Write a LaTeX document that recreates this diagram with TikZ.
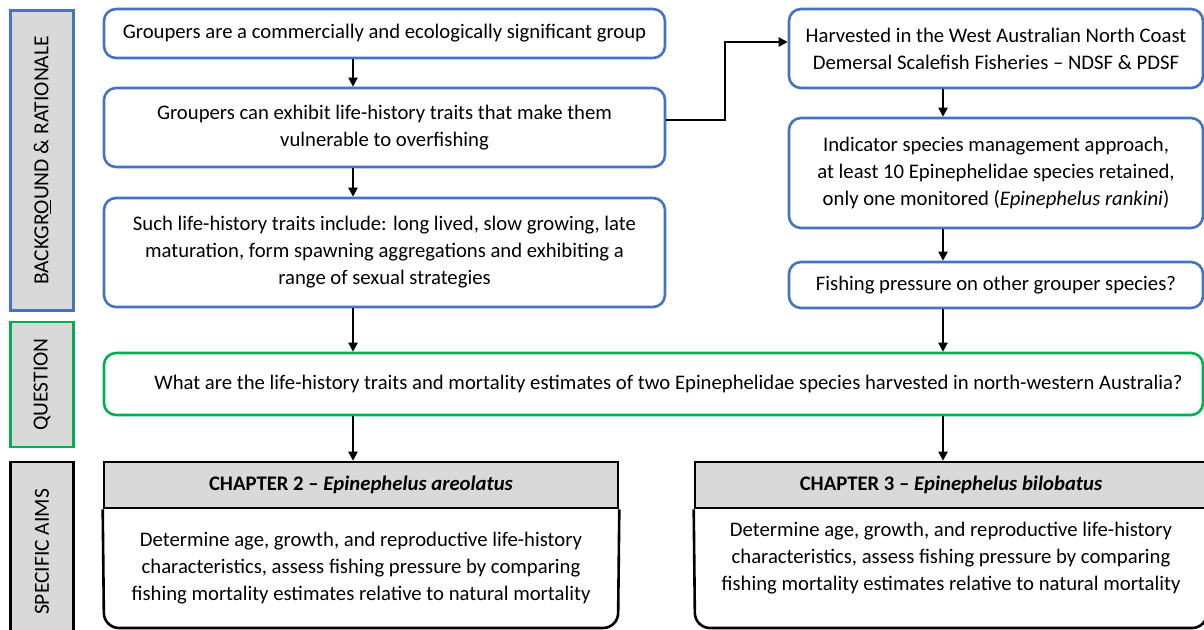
\documentclass[tikz,border=0pt]{standalone}
\usepackage{fontspec}
\setmainfont{Carlito}
\usetikzlibrary{arrows.meta}
\definecolor{bblue}{HTML}{4472C4}
\definecolor{ggreen}{HTML}{00B050}
\definecolor{lgray}{HTML}{D9D9D9}
\begin{document}
\begin{tikzpicture}[x=1pt,y=-1pt,
  every node/.style={font=\fontsize{20.7}{27}\selectfont, inner sep=0pt, align=center},
  bluebox/.style={draw=bblue, line width=2.6pt, rounded corners=12pt, fill=white},
  sidelabel/.style={fill=lgray, line width=2.6pt, rotate=90, font=\fontsize{21.5}{27}\selectfont},
  chead/.style={draw=black, fill=lgray, line width=2.6pt, font=\fontsize{20.7}{27}\selectfont\bfseries},
  arr/.style={line width=2pt, -{Triangle[length=9pt,width=9pt]}}
]
\useasboundingbox (0,0) rectangle (1204,629);
% side labels
\node[sidelabel, draw=bblue, minimum width=300pt, minimum height=63pt] (lab1) at (42,160.5) {BACKGR\underline{O}UND \& RATIONALE};
\node[sidelabel, draw=ggreen, minimum width=125pt, minimum height=63pt] (lab2) at (42,384.5) {QUESTION};
\node[sidelabel, draw=black, minimum width=180pt, minimum height=63pt] (lab3) at (42,552) {SPECIFIC AIMS};
% left column
\node[bluebox, minimum width=561pt, minimum height=49pt] (b1) at (384.5,33.5) {\raisebox{-2pt}{Groupers are a commercially and ecologically significant group}};
\node[bluebox, minimum width=561pt, minimum height=79pt] (b2) at (384.5,127.5) {Groupers can exhibit life-history traits that make them\\vulnerable to overfishing};
\node[bluebox, minimum width=561pt, minimum height=109pt] (b3) at (384.5,252.5) {Such life-history traits include: long lived, slow growing, late\\maturation, form spawning aggregations and exhibiting a\\range of sexual strategies};
% right column
\node[bluebox, minimum width=414pt, minimum height=79pt] (r1) at (996,48.5) {Harvested in the West Australian North Coast\\Demersal Scalefish Fisheries -- NDSF \& PDSF};
\node[bluebox, minimum width=414pt, minimum height=110pt] (r2) at (996,173) {Indicator species management approach,\\at least 10 Epinephelidae species retained,\\only one monitored (\textit{Epinephelus rankini})};
\node[bluebox, minimum width=414pt, minimum height=46pt] (r3) at (996,285) {\raisebox{-2pt}{Fishing pressure on other grouper species?}};
% question
\node[bluebox, draw=ggreen, minimum width=1099pt, minimum height=62pt] (q) at (653.5,384) {\hspace*{30pt}\raisebox{-2pt}{What are the life-history traits and mortality estimates of two Epinephelidae species harvested in north-western Australia?}};
% chapters
\node[chead, minimum width=514pt, minimum height=46pt] (c2h) at (361,485) {\raisebox{-2pt}{CHAPTER 2 -- \textit{Epinephelus areolatus}}};
\coordinate (c2bl) at (104,628);
\coordinate (c2br) at (618,628);
\draw[line width=2.6pt, rounded corners=15pt] (c2h.south west) -- (c2bl) -- (c2br) -- (c2h.south east);
\node (c2t) at (361,568) {Determine age, growth, and reproductive life-history\\characteristics, assess fishing pressure by comparing\\fishing mortality estimates relative to natural mortality};
\node[chead, minimum width=512pt, minimum height=46pt] (c3h) at (951,485) {\raisebox{-2pt}{CHAPTER 3 -- \textit{Epinephelus bilobatus}}};
\coordinate (c3bl) at (695,628);
\coordinate (c3br) at (1207,628);
\draw[line width=2.6pt, rounded corners=15pt] (c3h.south west) -- (c3bl) -- (c3br) -- (c3h.south east);
\node (c3t) at (951,558) {Determine age, growth, and reproductive life-history\\characteristics, assess fishing pressure by comparing\\fishing mortality estimates relative to natural mortality};
% connectors
\draw[arr] (b1.south -| 353,0) -- (b2.north -| 353,0);
\draw[arr] (b2.south -| 353,0) -- (b3.north -| 353,0);
\draw[arr] (b3.south -| 353,0) -- (q.north -| 353,0);
\coordinate (k1) at (725,120);
\coordinate (k2) at (725,42);
\draw[line width=2.6pt, -{Triangle[length=9pt,width=9pt]}] (b2.east |- k1) -- (k1) -- (k2) -- (r1.west |- k2);
\draw[arr] (r1.south -| 943,0) -- (r2.north -| 943,0);
\draw[arr] (r2.south -| 943,0) -- (r3.north -| 943,0);
\draw[arr] (r3.south -| 943,0) -- (q.north -| 943,0);
\draw[arr] (q.south -| 353,0) -- (c2h.north -| 353,0);
\draw[arr] (q.south -| 943,0) -- (c3h.north -| 943,0);
\end{tikzpicture}
\end{document}
